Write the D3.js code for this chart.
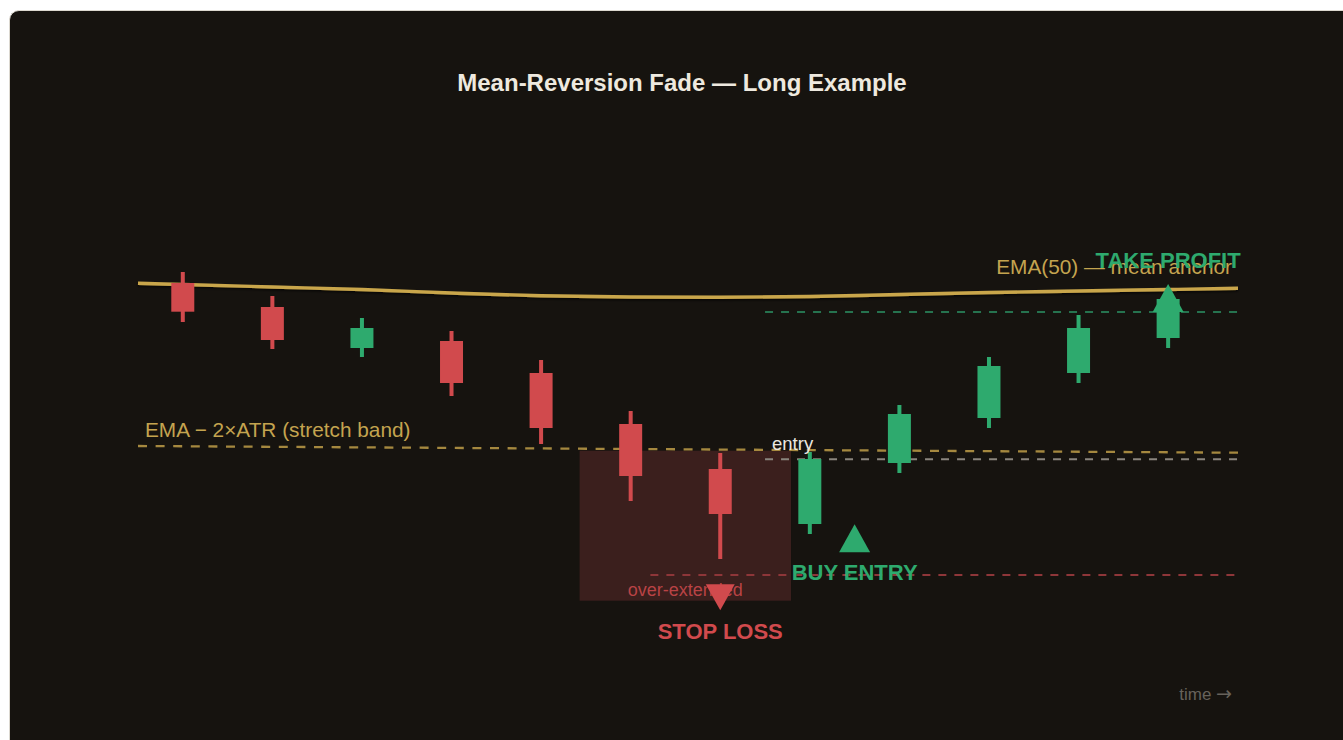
<!DOCTYPE html>
<html>
<head>
<meta charset="utf-8">
<script src="https://cdn.jsdelivr.net/npm/d3@7"></script>
<style>
  html, body { margin: 0; padding: 0; background: #ffffff; overflow: hidden; width: 1343px; height: 740px; }
  .card { position: absolute; left: 9px; top: 10px; width: 1352px; height: 780px;
          border: 1px solid #dcd8cf; border-radius: 10px; background: #16130f; overflow: hidden; }
  svg { position: absolute; left: 0; top: 0; }
  text { font-family: "Liberation Sans", Arial, Helvetica, sans-serif; }
</style>
</head>
<body>
<div class="card"><svg id="chart" width="1352" height="780"></svg></div>
<script>
// ---- data ----
const candleIndex = [0, 1, 2, 3, 4, 5, 6, 7, 8, 9, 10, 11];
const opens  = [85.7, 83.3, 79.2, 79.9, 76.7, 71.6, 67.1, 61.6, 67.7, 72.2, 76.7, 80.2];
const highs  = [86.8, 84.4, 82.2, 80.9, 78.0, 72.9, 68.7, 68.8, 73.5, 78.3, 82.5, 85.1];
const lows   = [81.8, 79.1, 78.3, 74.4, 69.6, 63.9, 58.1, 60.6, 66.7, 71.2, 75.7, 79.2];
const closes = [82.83, 80.0, 81.2, 75.7, 71.2, 66.4, 62.6, 68.1, 72.6, 77.4, 81.2, 84.1];

const emaIndex  = [-0.5, 0, 1, 2, 3, 4, 5, 6, 7, 8, 9, 10, 11, 11.78];
const emaValues = [85.67, 85.55, 85.3, 85.05, 84.7, 84.42, 84.3, 84.27, 84.35, 84.55, 84.75, 84.9, 85.05, 85.17];

const bandIndex  = [-0.5, 11.78];
const bandValues = [69.4, 68.73];

const levelNames  = ["take profit", "entry", "stop"];
const levelPrices = [82.8, 68.07, 56.5];
const levelStart  = [6.5, 6.5, 5.22];
const levelEnd    = [11.78, 11.78, 11.78];

const zoneIndex = [4.43, 6.79];
const zonePrice = [68.93, 53.93];

const titleText = "Mean-Reversion Fade — Long Example";
const emaLabel = "EMA(50) — mean anchor";
const bandLabel = "EMA − 2×ATR (stretch band)";
const zoneLabel = "over-extended";
const entryLabel = "entry";
const timeLabel = "time ";
const timeArrow = "→";

const markerLabels = ["TAKE PROFIT", "BUY ENTRY", "STOP LOSS"];
const markerIndex  = [11, 7.5, 6];
const markerPrice  = [82.8, 58.77, 55.57];
const markerDir    = ["up", "up", "down"];

// ---- colours / styles ----
const RED = "#d14a4d", GREEN = "#2eaa6e", GOLD = "#c9a64b";

const svg = d3.select("#chart");
const defs = svg.append("defs");
const f = defs.append("filter").attr("id", "shadow").attr("x", "-5%").attr("y", "-50%").attr("width", "110%").attr("height", "200%");
f.append("feDropShadow").attr("dx", 0).attr("dy", 1.5).attr("stdDeviation", 1).attr("flood-color", "#000").attr("flood-opacity", 0.7);

const g = svg.append("g").attr("transform", "translate(-10,-11)");

const x = d3.scaleLinear().domain([-0.5, 11.78]).range([138, 1238]);
// y: 10 px per price unit, price 100 at y=140
const y = d3.scaleLinear().domain([40, 100]).range([740, 140]);

// title
g.append("text").attr("x", 682).attr("y", 91).attr("text-anchor", "middle")
  .attr("font-size", 24).attr("font-weight", "bold").attr("fill", "#eee9df").text(titleText);

// over-extended zone
g.append("rect")
  .attr("x", x(zoneIndex[0])).attr("width", x(zoneIndex[1]) - x(zoneIndex[0]))
  .attr("y", y(zonePrice[0])).attr("height", y(zonePrice[1]) - y(zonePrice[0]))
  .attr("fill", "#3b1f1d");

// stretch band
const band = bandIndex.map((d, i) => ({ i: d, v: bandValues[i] }));
g.append("path").datum(band)
  .attr("d", d3.line().x(d => x(d.i)).y(d => y(d.v)))
  .attr("fill", "none").attr("stroke", GOLD).attr("stroke-opacity", 0.8)
  .attr("stroke-width", 2.3).attr("stroke-dasharray", "9,8.6");

// EMA
const ema = emaIndex.map((d, i) => ({ i: d, v: emaValues[i] }));
g.append("path").datum(ema)
  .attr("d", d3.line().x(d => x(d.i)).y(d => y(d.v)).curve(d3.curveMonotoneX))
  .attr("fill", "none").attr("stroke", GOLD).attr("stroke-width", 3.4)
  .attr("filter", "url(#shadow)");

// levels
const levelColors = { "take profit": "#26734f", "entry": "#8a857e", "stop": "#8e3639" };
levelNames.forEach((n, k) => {
  g.append("line")
    .attr("x1", x(levelStart[k])).attr("x2", x(levelEnd[k]))
    .attr("y1", y(levelPrices[k])).attr("y2", y(levelPrices[k]))
    .attr("stroke", levelColors[n]).attr("stroke-width", 2).attr("stroke-dasharray", "8,8");
});

// candles
const candles = candleIndex.map((d, i) => ({ i: d, o: opens[i], h: highs[i], l: lows[i], c: closes[i] }));
const cg = g.append("g").selectAll("g").data(candles).join("g");
cg.append("rect")
  .attr("x", d => x(d.i) - 2).attr("width", 4)
  .attr("y", d => y(d.h)).attr("height", d => y(d.l) - y(d.h))
  .attr("fill", d => d.c >= d.o ? GREEN : RED);
cg.append("rect")
  .attr("x", d => x(d.i) - 11.5).attr("width", 23)
  .attr("y", d => y(Math.max(d.o, d.c))).attr("height", d => Math.abs(y(d.o) - y(d.c)))
  .attr("fill", d => d.c >= d.o ? GREEN : RED);

// labels
g.append("text").attr("x", x(bandIndex[0]) + 7).attr("y", y(bandValues[0]) - 9)
  .attr("font-size", 20.8).attr("fill", "#c4a44f").text(bandLabel);
g.append("text").attr("x", x(emaIndex[emaIndex.length - 1]) - 6).attr("y", y(emaValues[emaValues.length - 1]) - 14)
  .attr("text-anchor", "end").attr("font-size", 20.8).attr("fill", "#c4a44f").text(emaLabel);
g.append("text").attr("x", (x(zoneIndex[0]) + x(zoneIndex[1])) / 2).attr("y", y(zonePrice[1]) - 5)
  .attr("text-anchor", "middle").attr("font-size", 18).attr("fill", RED).attr("fill-opacity", 0.85).text(zoneLabel);
g.append("text").attr("x", x(levelStart[1]) + 7).attr("y", y(levelPrices[1]) - 9)
  .attr("font-size", 18.5).attr("fill", "#ece8e0").text(entryLabel);
const tt = g.append("text").attr("x", 1232).attr("y", 700).attr("text-anchor", "end")
  .attr("font-size", 17).attr("fill", "#67625b");
tt.append("tspan").text(timeLabel);
tt.append("tspan").attr("font-family", "'DejaVu Sans', sans-serif").attr("font-size", 19).text(timeArrow);

// markers
markerLabels.forEach((lab, k) => {
  const cx = x(markerIndex[k]);
  const py = y(markerPrice[k]);
  const color = markerDir[k] === "up" ? GREEN : RED;
  if (markerDir[k] === "up") {
    const w = 31, h = 28;
    g.append("path").attr("d", `M${cx},${py - h}L${cx + w / 2},${py}L${cx - w / 2},${py}Z`).attr("fill", color);
    const ty = k === 0 ? py - h - 16 : py + 28;
    g.append("text").attr("x", cx).attr("y", ty).attr("text-anchor", "middle")
      .attr("font-size", 22).attr("font-weight", "bold").attr("fill", color).text(lab);
  } else {
    const w = 29, h = 26;
    g.append("path").attr("d", `M${cx - w / 2},${py}L${cx + w / 2},${py}L${cx},${py + h}Z`).attr("fill", color);
    g.append("text").attr("x", cx).attr("y", py + h + 29).attr("text-anchor", "middle")
      .attr("font-size", 22).attr("font-weight", "bold").attr("fill", color).text(lab);
  }
});
</script>
</body>
</html>
